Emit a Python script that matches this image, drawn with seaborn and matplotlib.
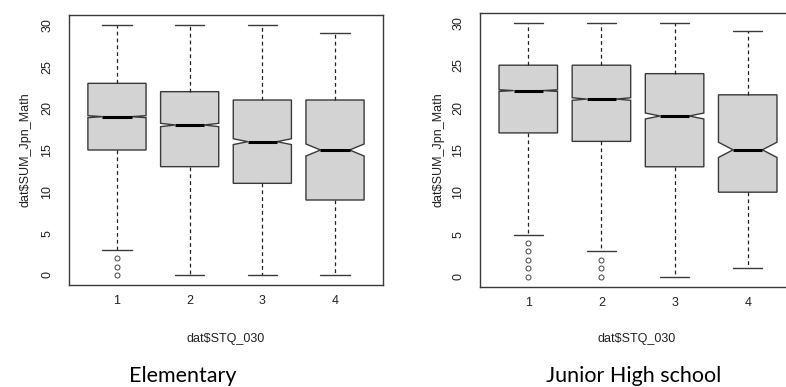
import numpy as np
import matplotlib
matplotlib.use("Agg")
import matplotlib.pyplot as plt
import seaborn as sns

# ── summary values ────────────────────────────────────────────
groups = [1, 2, 3, 4]

elem_whislo = [3, 0, 0, 0]
elem_q1 = [15, 13, 11, 9]
elem_med = [19, 18, 16, 15]
elem_q3 = [23, 22, 21, 21]
elem_whishi = [30, 30, 30, 29]
elem_notch = [0.12, 0.2, 0.35, 0.72]
elem_fliers = [[0, 1, 2], [], [], []]

jhs_whislo = [5, 3, 0, 1]
jhs_q1 = [17, 16, 13, 10]
jhs_med = [22, 21, 19, 15]
jhs_q3 = [25, 25, 24, 21.5]
jhs_whishi = [30, 30, 30, 29]
jhs_notch = [0.1, 0.15, 0.35, 0.9]
jhs_fliers = [[0, 1, 2, 3, 4], [0, 1, 2], [], []]

panel_titles = ["Elementary", "Junior High school"]
ylabel = "dat$SUM_Jpn_Math"
xlabel = "dat$STQ_030"
yticks = [0, 5, 10, 15, 20, 25, 30]


def make_stats(whislo, q1, med, q3, whishi, notch, fliers):
    stats = []
    for i in range(len(groups)):
        stats.append(dict(whislo=whislo[i], q1=q1[i], med=med[i], q3=q3[i],
                          whishi=whishi[i], cilo=med[i] - notch[i],
                          cihi=med[i] + notch[i], fliers=fliers[i],
                          label=str(groups[i])))
    return stats


sns.set_style("white")
plt.rcParams["font.family"] = ["Liberation Sans", "DejaVu Sans"]

fig = plt.figure(figsize=(7.86, 3.87), dpi=100)
W, H = 786, 387
ax1 = fig.add_axes([69 / W, 1 - 285 / H, (383 - 69) / W, (285 - 15) / H])
ax2 = fig.add_axes([480 / W, 1 - 287 / H, (796 - 480) / W, (287 - 12.7) / H])

EDGE = "#3a3a3a"
panels = [
    (ax1, make_stats(elem_whislo, elem_q1, elem_med, elem_q3, elem_whishi, elem_notch, elem_fliers)),
    (ax2, make_stats(jhs_whislo, jhs_q1, jhs_med, jhs_q3, jhs_whishi, jhs_notch, jhs_fliers)),
]

for ax, stats in panels:
    ax.bxp(stats, positions=groups, widths=0.8, shownotches=True,
           patch_artist=True,
           boxprops=dict(facecolor="#d3d3d3", edgecolor=EDGE, linewidth=1.0),
           whiskerprops=dict(color="#222222", linewidth=0.9, linestyle=(0, (3, 2.5))),
           capprops=dict(color=EDGE, linewidth=1.0),
           medianprops=dict(color="black", linewidth=2.2, solid_capstyle="butt"),
           flierprops=dict(marker="o", markersize=3.6, markerfacecolor="none",
                           markeredgecolor="#444444", markeredgewidth=0.7))
    ax.set_xlim(0.34, 4.66)
    ax.set_ylim(-1.2, 31.2)
    ax.set_yticks(yticks)
    ax.set_xticks(groups)
    ax.set_xticklabels([str(g) for g in groups])
    for sp in ax.spines.values():
        sp.set_visible(True)
        sp.set_color(EDGE)
        sp.set_linewidth(1.0)
    ax.tick_params(axis="both", direction="out", length=4.3, width=0.9,
                   color=EDGE, labelsize=9, labelcolor="#222222")
    ax.tick_params(axis="x", pad=3)
    ax.tick_params(axis="y", pad=7, labelrotation=90)
    for lab in ax.get_yticklabels():
        lab.set_va("center")
    ax.set_xlabel(xlabel, fontsize=9, color="#222222")
    ax.set_ylabel(ylabel, fontsize=9, color="#222222")
    ax.grid(False)

ax1.xaxis.set_label_coords(0.5, -0.178)
ax1.yaxis.set_label_coords(-0.119, 0.5)
ax2.xaxis.set_label_coords(0.497, -0.168)
ax2.yaxis.set_label_coords(-0.112, 0.5)

fig.text(183 / W, 1 - 382 / H, panel_titles[0], ha="center", va="baseline",
         fontsize=15.5, family=["Lato", "DejaVu Sans"], color="black")
fig.text(634 / W, 1 - 382 / H, panel_titles[1], ha="center", va="baseline",
         fontsize=15.5, family=["Lato", "DejaVu Sans"], color="black")

fig.savefig("out.png", dpi=100, facecolor="white")
